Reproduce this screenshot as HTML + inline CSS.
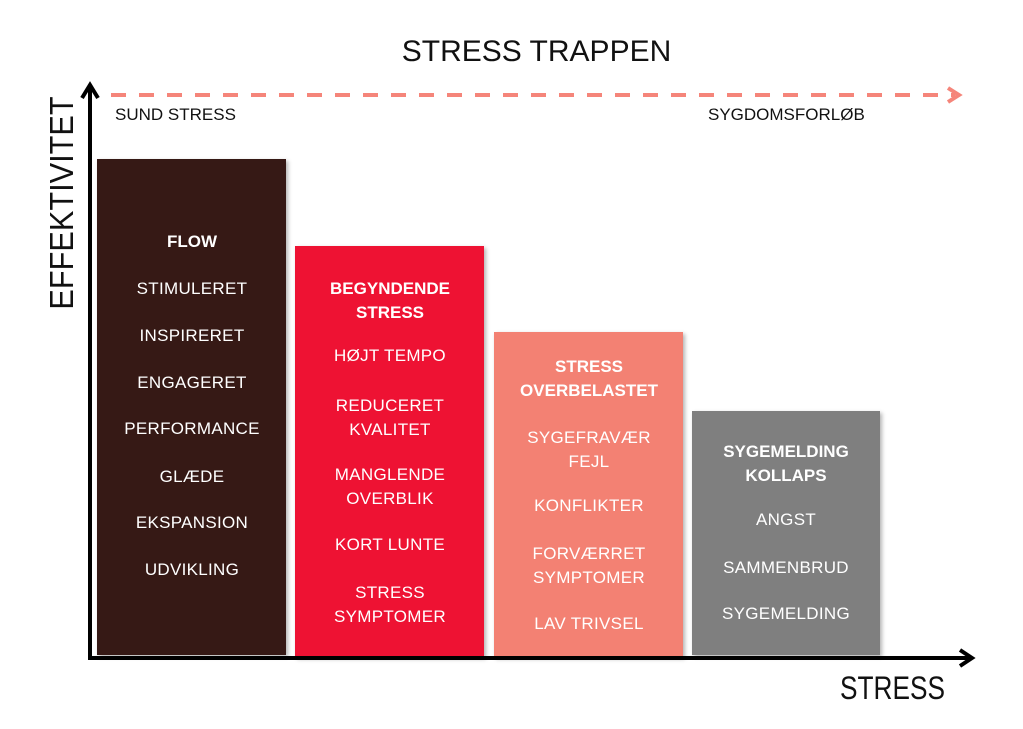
<!DOCTYPE html>
<html><head><meta charset="utf-8"><style>
body{margin:0;width:1023px;height:729px;background:#fff;position:relative;overflow:hidden;font-family:"Liberation Sans",sans-serif}
.b{position:absolute;box-shadow:2px 2px 4px rgba(0,0,0,.3)}
.t{position:absolute;width:190px;text-align:center;color:#fff;font-size:17px;line-height:20px;letter-spacing:.3px;white-space:nowrap}
.h{font-weight:bold;letter-spacing:0}
.k{position:absolute;color:#111;white-space:nowrap}
</style></head><body>
<div class="b" style="left:97px;top:159px;width:189px;height:496px;background:#361915"></div>
<div class="b" style="left:295px;top:246px;width:189px;height:411px;background:#ee1233"></div>
<div class="b" style="left:494px;top:332px;width:189px;height:325px;background:#f38173"></div>
<div class="b" style="left:692px;top:411px;width:188px;height:244px;background:#7f7f7f"></div>
<svg width="1023" height="729" style="position:absolute;left:0;top:0">
<line x1="90" y1="660" x2="90" y2="86" stroke="#000" stroke-width="4"/>
<polyline points="82,98 90,85 98,98" fill="none" stroke="#000" stroke-width="4"/>
<line x1="88" y1="658" x2="972" y2="658" stroke="#000" stroke-width="4"/>
<polyline points="960,650 972,658 960,666" fill="none" stroke="#000" stroke-width="4"/>
<line x1="111" y1="95" x2="955" y2="95" stroke="#f5857a" stroke-width="4" stroke-dasharray="15,13"/>
<polyline points="948,88 959,95 948,102" fill="none" stroke="#f5857a" stroke-width="4"/>
</svg>
<div class="k" style="left:0;width:1073px;text-align:center;top:35px;font-size:30px">STRESS TRAPPEN</div>
<div class="k" style="left:115px;top:105px;font-size:17px">SUND STRESS</div>
<div class="k" style="left:708px;top:105px;font-size:17px">SYGDOMSFORLØB</div>
<div class="k" style="left:840px;top:670px;font-size:32px;transform:scaleX(.82);transform-origin:left">STRESS</div>
<div class="k" style="left:62px;top:203px;font-size:33px;transform:translate(-50%,-50%) rotate(-90deg) scaleX(.93)">EFFEKTIVITET</div>

<div class="t h" style="left:97px;top:232px">FLOW</div>
<div class="t" style="left:97px;top:279px">STIMULERET</div>
<div class="t" style="left:97px;top:326px">INSPIRERET</div>
<div class="t" style="left:97px;top:373px">ENGAGERET</div>
<div class="t" style="left:97px;top:419px">PERFORMANCE</div>
<div class="t" style="left:97px;top:467px">GLÆDE</div>
<div class="t" style="left:97px;top:513px">EKSPANSION</div>
<div class="t" style="left:97px;top:560px">UDVIKLING</div>

<div class="t h" style="left:295px;top:277px;line-height:23.5px">BEGYNDENDE<br>STRESS</div>
<div class="t" style="left:295px;top:346px">HØJT TEMPO</div>
<div class="t" style="left:295px;top:394px;line-height:23.5px">REDUCERET<br>KVALITET</div>
<div class="t" style="left:295px;top:463px;line-height:23.5px">MANGLENDE<br>OVERBLIK</div>
<div class="t" style="left:295px;top:535px">KORT LUNTE</div>
<div class="t" style="left:295px;top:581px;line-height:23.5px">STRESS<br>SYMPTOMER</div>

<div class="t h" style="left:494px;top:355px;line-height:23.5px">STRESS<br>OVERBELASTET</div>
<div class="t" style="left:494px;top:426px;line-height:23.5px">SYGEFRAVÆR<br>FEJL</div>
<div class="t" style="left:494px;top:496px">KONFLIKTER</div>
<div class="t" style="left:494px;top:542px;line-height:23.5px">FORVÆRRET<br>SYMPTOMER</div>
<div class="t" style="left:494px;top:614px">LAV TRIVSEL</div>

<div class="t h" style="left:691px;top:440px;line-height:23.5px">SYGEMELDING<br>KOLLAPS</div>
<div class="t" style="left:691px;top:510px">ANGST</div>
<div class="t" style="left:691px;top:558px">SAMMENBRUD</div>
<div class="t" style="left:691px;top:604px">SYGEMELDING</div>
</body></html>
